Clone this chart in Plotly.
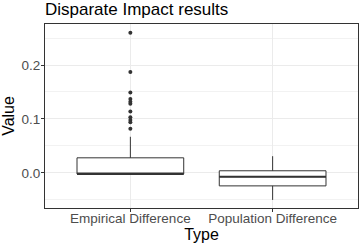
import plotly.graph_objects as go

categories = ["Empirical Difference", "Population Difference"]
q1 = [-0.002, -0.024]
median = [-0.002, -0.007]
q3 = [0.028, 0.004]
lower_fence = [-0.002, -0.050]
upper_fence = [0.067, 0.031]
outliers_emp = [0.260, 0.187, 0.149, 0.137, 0.132, 0.128, 0.114, 0.103, 0.098, 0.094, 0.082]

positions = [1, 2]
box_w = 0.75
dark = "#333333"

fig = go.Figure()
for i, cat in enumerate(categories):
    fig.add_trace(go.Box(
        x=[positions[i]], q1=[q1[i]], median=[median[i]], q3=[q3[i]],
        lowerfence=[lower_fence[i]], upperfence=[upper_fence[i]],
        width=box_w, whiskerwidth=0, fillcolor="white",
        line=dict(color=dark, width=1), boxpoints=False,
        showlegend=False, name=cat, hoverinfo="skip"))
    fig.add_trace(go.Scatter(
        x=[positions[i] - box_w / 2, positions[i] + box_w / 2],
        y=[median[i], median[i]], mode="lines",
        line=dict(color=dark, width=2), showlegend=False, hoverinfo="skip"))

fig.add_trace(go.Scatter(
    x=[positions[0]] * len(outliers_emp), y=outliers_emp, mode="markers",
    marker=dict(color=dark, size=4), showlegend=False))

fig.update_layout(
    width=362, height=247,
    margin=dict(l=45, r=4, t=24, b=39, autoexpand=False),
    paper_bgcolor="white", plot_bgcolor="white",
    font=dict(family="Liberation Sans"),
    title=dict(text="Disparate Impact results", x=45 / 362, xref="container",
               xanchor="left", y=1 - 3 / 247, yanchor="top",
               font=dict(family="Liberation Sans", size=17, color="black"),
               pad=dict(l=0, t=0, b=0, r=0)),
    xaxis=dict(range=[0.4, 2.6], tickvals=positions, ticktext=categories,
               automargin=False, ticklabelstandoff=-5,
               showgrid=True, gridcolor="#EBEBEB", gridwidth=1,
               ticks="outside", ticklen=3, tickcolor=dark,
               tickfont=dict(size=13.5, color="#4D4D4D"),
               showline=True, linecolor=dark, linewidth=1, mirror=True,
               zeroline=False,
               title=dict(text="Type", font=dict(size=16, color="black"), standoff=0)),
    yaxis=dict(range=[-0.065, 0.276], tickvals=[0.0, 0.1, 0.2],
               ticktext=["0.0", "0.1", "0.2"], automargin=False,
               ticklabelstandoff=-2,
               showgrid=True, gridcolor="#EBEBEB", gridwidth=1,
               minor=dict(tickvals=[-0.05, 0.05, 0.15, 0.25], showgrid=True,
                          gridcolor="#F2F2F2", gridwidth=1, ticks=""),
               ticks="outside", ticklen=3, tickcolor=dark,
               tickfont=dict(size=13.5, color="#4D4D4D"),
               showline=True, linecolor=dark, linewidth=1, mirror=True,
               zeroline=False,
               title=dict(text="Value", font=dict(size=16, color="black"), standoff=4)),
)

fig.write_html("out.html", config={"displayModeBar": False},
               post_script="document.body.style.margin='0';")
